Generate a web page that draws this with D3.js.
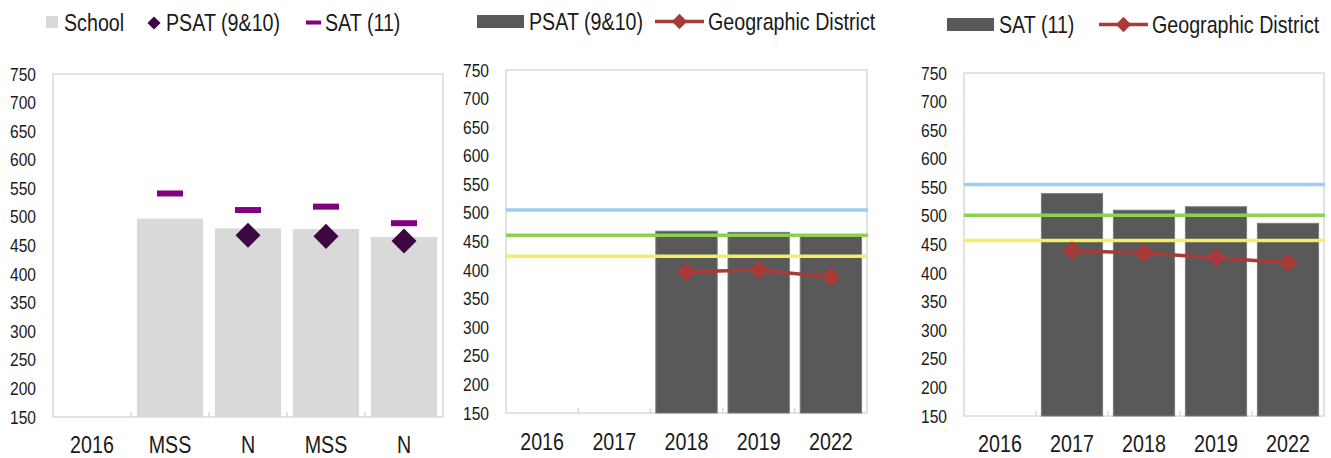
<!DOCTYPE html>
<html>
<head>
<meta charset="utf-8">
<script src="https://cdn.jsdelivr.net/npm/d3@7"></script>
<style>
  body { margin: 0; background: #fff; }
  svg text { font-family: "Liberation Sans", Arial, sans-serif; fill: #1a1a1a; }
</style>
</head>
<body>
<svg id="chart" width="1331" height="458"></svg>
<script>
// ---- data ----
const yTicks = [150, 200, 250, 300, 350, 400, 450, 500, 550, 600, 650, 700, 750];

// panel 1: school comparison
const schoolCats = ["2016", "MSS", "N", "MSS", "N"];
const schoolBars = [null, 497, 480, 479, 465];
const schoolPsat = [null, null, 468, 466, 458];
const schoolSat = [null, 541, 512, 518, 489];

// panel 2: PSAT (9&10)
const psatCats = ["2016", "2017", "2018", "2019", "2022"];
const psatBars = [null, null, 468, 466, 461];
const psatDistrict = [null, null, 397, 400, 388];
const psatRefs = [505, 461, 424]; // blue, green, yellow

// panel 3: SAT (11)
const satCats = ["2016", "2017", "2018", "2019", "2022"];
const satBars = [null, 539, 510, 516, 487];
const satDistrict = [null, 439, 435, 427, 418];
const satRefs = [555, 501, 457];

const refColors = ["#9fcbf7", "#8fd04e", "#f5ec6a"];
const districtColor = "#a83a3a";
const SX = 0.82; // fake a narrow face: no Arial Narrow installed

const svg = d3.select("#chart");
const diamond = d3.symbol().type(d3.symbolDiamond2);

// squeeze text horizontally, keeping its anchor point in place
function narrow(sel) {
  sel.each(function () {
    const t = d3.select(this);
    const x = +t.attr("x") || 0;
    t.attr("x", x / SX).attr("transform", `scale(${SX},1)`);
  });
}

function label(g, x, y, txt, size) {
  return g.append("text").attr("x", x).attr("y", y).style("font-size", size + "px").text(txt).call(narrow);
}

function panel(opts) {
  const g = svg.append("g");
  const x = d3.scaleBand().domain(d3.range(opts.cats.length))
      .range([opts.left, opts.right]).paddingInner(0.15).paddingOuter(0.075);
  const y = d3.scaleLinear().domain([150, 750]).range([opts.bottom, opts.top]);

  // plot border
  g.append("rect")
    .attr("x", opts.left).attr("y", opts.top)
    .attr("width", opts.right - opts.left).attr("height", opts.bottom - opts.top)
    .attr("fill", "none").attr("stroke", "#d9d9d9").attr("stroke-width", 1.5);

  // bars
  g.selectAll("rect.bar")
    .data(opts.bars.map((v, i) => ({ v, i })).filter(d => d.v != null))
    .join("rect")
    .attr("class", "bar")
    .attr("x", d => x(d.i))
    .attr("width", x.bandwidth())
    .attr("y", d => y(d.v))
    .attr("height", d => y(150) - y(d.v))
    .attr("fill", opts.barColor)
    .attr("stroke", opts.barStroke || "none")
    .attr("stroke-width", 1);

  // category boundary ticks
  const step = x.step();
  g.selectAll("line.tk")
    .data(d3.range(1, opts.cats.length))
    .join("line")
    .attr("x1", i => opts.left + step * i)
    .attr("x2", i => opts.left + step * i)
    .attr("y1", opts.bottom).attr("y2", opts.bottom - 5)
    .attr("stroke", "#d9d9d9").attr("stroke-width", 1.5);

  // y axis
  const ya = g.append("g")
    .attr("transform", `translate(${opts.left},0)`)
    .call(d3.axisLeft(y).tickValues(yTicks).tickSize(0).tickPadding(17));
  ya.select(".domain").remove();
  ya.selectAll("text").style("font-size", "19px").attr("fill", "#1a1a1a").call(narrow);

  // x axis
  const xa = g.append("g")
    .attr("transform", `translate(0,${opts.bottom})`)
    .call(d3.axisBottom(x).tickSize(0).tickPadding(opts.xPad).tickFormat(i => opts.cats[i]));
  xa.select(".domain").remove();
  xa.selectAll("text").style("font-size", "24px").attr("fill", "#1a1a1a").call(narrow);

  return { g, x, y };
}

// ---------- panel 1 ----------
const p1 = panel({ cats: schoolCats, bars: schoolBars, left: 53, right: 443, top: 74, bottom: 417,
  barColor: "#d9d9d9", xPad: 19 });

p1.g.selectAll("rect.sat")
  .data(schoolSat.map((v, i) => ({ v, i })).filter(d => d.v != null))
  .join("rect")
  .attr("x", d => p1.x(d.i) + p1.x.bandwidth() / 2 - 13)
  .attr("y", d => p1.y(d.v) - 3)
  .attr("width", 26).attr("height", 6)
  .attr("fill", "#800080");

p1.g.selectAll("path.psat")
  .data(schoolPsat.map((v, i) => ({ v, i })).filter(d => d.v != null))
  .join("path")
  .attr("d", diamond.size(400))
  .attr("transform", d => `translate(${p1.x(d.i) + p1.x.bandwidth() / 2},${p1.y(d.v)})`)
  .attr("fill", "#3d0742");

// legend 1
const l1 = svg.append("g");
l1.append("rect").attr("x", 46).attr("y", 16).attr("width", 12).attr("height", 12).attr("fill", "#d9d9d9");
label(l1, 64, 31, "School", 24);
l1.append("path").attr("d", diamond.size(110)).attr("transform", "translate(154,23)").attr("fill", "#3d0742");
label(l1, 166, 31, "PSAT (9&10)", 24);
l1.append("rect").attr("x", 306).attr("y", 20.5).attr("width", 15).attr("height", 4).attr("fill", "#800080");
label(l1, 325, 31, "SAT (11)", 24);

// ---------- district panels ----------
function districtPanel(opts) {
  const p = panel(opts);
  opts.refs.forEach((v, k) => {
    p.g.append("line")
      .attr("x1", opts.left).attr("x2", opts.right + 1)
      .attr("y1", p.y(v)).attr("y2", p.y(v))
      .attr("stroke", refColors[k]).attr("stroke-width", 3.5);
  });
  const pts = opts.district.map((v, i) => ({ v, i })).filter(d => d.v != null);
  const line = d3.line().x(d => p.x(d.i) + p.x.bandwidth() / 2).y(d => p.y(d.v));
  p.g.append("path").datum(pts).attr("d", line)
    .attr("fill", "none").attr("stroke", districtColor).attr("stroke-width", 3.5);
  p.g.selectAll("path.dm").data(pts).join("path")
    .attr("d", diamond.size(230))
    .attr("transform", d => `translate(${p.x(d.i) + p.x.bandwidth() / 2},${p.y(d.v)})`)
    .attr("fill", districtColor);
  return p;
}

districtPanel({ cats: psatCats, bars: psatBars, district: psatDistrict, refs: psatRefs,
  left: 506, right: 867, top: 70, bottom: 413, barColor: "#595959", barStroke: "#7a7a7a", xPad: 20 });

districtPanel({ cats: satCats, bars: satBars, district: satDistrict, refs: satRefs,
  left: 964, right: 1324, top: 73, bottom: 416, barColor: "#595959", barStroke: "#7a7a7a", xPad: 19 });

function districtLegend(x0, y0, txt, lineX) {
  const l = svg.append("g");
  l.append("rect").attr("x", x0).attr("y", y0).attr("width", 47).attr("height", 13).attr("fill", "#595959");
  label(l, x0 + 52, y0 + 15, txt, 24);
  l.append("line").attr("x1", lineX).attr("x2", lineX + 49)
    .attr("y1", y0 + 6.5).attr("y2", y0 + 6.5).attr("stroke", districtColor).attr("stroke-width", 3.5);
  l.append("path").attr("d", diamond.size(150))
    .attr("transform", `translate(${lineX + 24.5},${y0 + 6.5})`).attr("fill", districtColor);
  label(l, lineX + 53, y0 + 15, "Geographic District", 24);
}
districtLegend(477, 15, "PSAT (9&10)", 655);
districtLegend(947, 18, "SAT (11)", 1099);
</script>
</body>
</html>
